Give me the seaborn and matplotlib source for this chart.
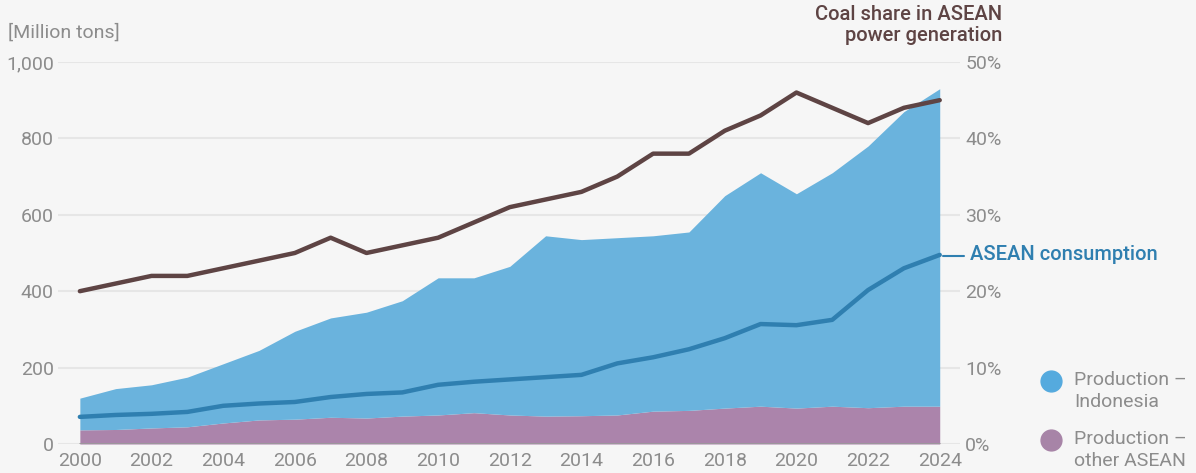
import matplotlib
matplotlib.use("Agg")
from matplotlib import pyplot as plt
from matplotlib.lines import Line2D
import seaborn as sns
import pandas as pd

years = list(range(2000, 2025))
prod_other = [37, 38, 42, 45, 55, 63, 65, 70, 68, 73, 76, 82, 76, 73, 74, 76,
              86, 88, 94, 99, 94, 99, 95, 99, 99]
prod_indonesia = [83, 107, 113, 130, 155, 182, 230, 260, 277, 302, 359, 353, 389,
                  472, 461, 464, 459, 467, 556, 611, 561, 611, 685, 771, 831]
consumption = [71, 76, 79, 84, 100, 106, 110, 123, 131, 135, 155, 163, 169, 175,
               181, 211, 227, 248, 277, 314, 311, 325, 403, 460, 495]
coal_share = [20, 21, 22, 22, 23, 24, 25, 27, 25, 26, 27, 29, 31, 32, 33, 35,
              38, 38, 41, 43, 46, 44, 42, 44, 45]

left_ticks = [0, 200, 400, 600, 800, 1000]
right_ticks = [0, 10, 20, 30, 40, 50]
year_ticks = list(range(2000, 2025, 2))
legend_labels = ["Production –\nIndonesia", "Production –\nother ASEAN"]

df = pd.DataFrame({"year": years, "consumption": consumption, "share": coal_share})

BG = "#f6f6f6"
GRAY = "#8c8c8c"
BLUE_AREA = "#6ab3dd"
PURPLE = "#ab84ab"
CONS = "#2f7fb0"
BROWN = "#5e4444"

sns.set_style("white")
plt.rcParams["font.family"] = ["Roboto", "DejaVu Sans"]

fig = plt.figure(figsize=(11.96, 4.73), dpi=100, facecolor=BG)
ax = fig.add_axes([0.0485, 0.0613, 0.754, 0.8077])
ax.set_facecolor(BG)

ax.stackplot(years, prod_other, prod_indonesia, colors=[PURPLE, BLUE_AREA],
             linewidth=0, zorder=2)
sns.lineplot(data=df, x="year", y="consumption", ax=ax, color=CONS, lw=3.2,
             zorder=3)
ax.plot([years[0], years[-1]], [0, 0], color="#9a9a9a", lw=1.2, zorder=4)

ax.set_xlim(1999.39, 2024.56)
ax.set_ylim(0, 1000)
ax.set_yticks(left_ticks)
ax.set_yticklabels([f"{v:,}" for v in left_ticks])
ax.set_xticks(year_ticks)
ax.set_xticklabels([str(y) for y in year_ticks])
ax.grid(axis="y", color="#e6e6e6", lw=1.5, zorder=0)
ax.set_axisbelow(True)
ax.tick_params(axis="both", length=0, labelsize=14, labelcolor=GRAY, pad=3)
ax.tick_params(axis="x", pad=6)
ax.set_xlabel("")
ax.set_ylabel("")
for s in ax.spines.values():
    s.set_visible(False)

ax2 = ax.twinx()
ax2.patch.set_visible(False)
sns.lineplot(data=df, x="year", y="share", ax=ax2, color=BROWN, lw=3.2, zorder=5)
ax2.set_ylim(0, 50)
ax2.set_yticks(right_ticks)
ax2.set_yticklabels([f"{v}%" for v in right_ticks])
ax2.tick_params(axis="y", length=0, labelsize=14, labelcolor=GRAY, pad=4)
ax2.set_ylabel("")
for s in ax2.spines.values():
    s.set_visible(False)

fig.text(8 / 1196, 1 - 33 / 473, "[Million tons]", color=GRAY, fontsize=14,
         va="center", ha="left")
fig.text(1002 / 1196, 1 - 5 / 473, "Coal share in ASEAN\npower generation",
         color=BROWN, fontsize=14.5, fontweight="medium", ha="right", va="top",
         linespacing=1.15)

# direct label for consumption line
ax.annotate("ASEAN consumption", xy=(years[-1], consumption[-1]),
            xytext=(21.5, 0), textcoords="offset points", color=CONS,
            fontsize=14.5, fontweight="medium", va="center", ha="left")
fig.add_artist(Line2D([943 / 1196, 964 / 1196], [1 - 256 / 473, 1 - 256 / 473],
                      color=CONS, lw=1.5))

# legend, circle aligned with first text line
for i, (lab, col) in enumerate(zip(legend_labels, ["#55aade", "#a784a7"])):
    yc = 381 + i * 59
    fig.add_artist(Line2D([1051 / 1196], [1 - yc / 473], marker="o", ls="",
                          markersize=15, color=col))
    fig.text(1074 / 1196, 1 - (yc - 10) / 473, lab, color=GRAY, fontsize=14,
             ha="left", va="top", linespacing=1.32)

fig.savefig("out.png", dpi=100, facecolor=BG)
